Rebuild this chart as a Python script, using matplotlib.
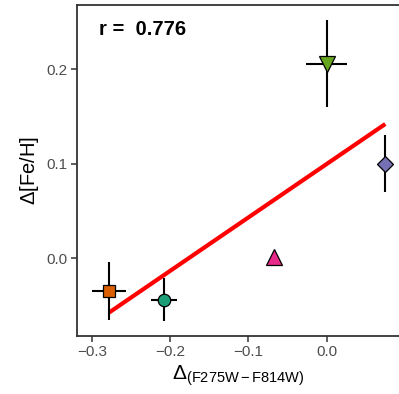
import numpy as np
import matplotlib
matplotlib.use("Agg")
import matplotlib.pyplot as plt

# ------------------------------------------------------------- dane
delta_color = [-0.278, -0.208, -0.067, 0.075, 0.0]
delta_color_err = [0.0215, 0.0166, 0.0, 0.0, 0.026]
delta_feh = [-0.035, -0.044, 0.001, 0.100, 0.206]
delta_feh_err = [0.031, 0.0225, 0.0, 0.030, 0.046]
markers = ["s", "o", "^", "D", "v"]
colors = ["#D95F02", "#1B9E77", "#E7298A", "#7570B3", "#66A61E"]
sizes = [8.0, 9.0, 12.0, 8.0, 12.0]

xticks = [-0.3, -0.2, -0.1, 0.0]
yticks = [0.0, 0.1, 0.2]

# ------------------------------------------------------------- fontki
plt.rcParams['font.family'] = ['Liberation Sans', 'DejaVu Sans']
plt.rcParams['mathtext.fontset'] = 'custom'
plt.rcParams['mathtext.rm'] = 'Liberation Sans'
plt.rcParams['mathtext.it'] = 'Liberation Sans:italic'

fig = plt.figure(figsize=(3.99, 3.94), dpi=100)
ax = fig.add_axes([77 / 399, (394 - 335.5) / 394, (399 - 77) / 399, (335.5 - 5.3) / 394])

# ------------------------------------------------------------- dopasowanie liniowe
x = np.array(delta_color)
y = np.array(delta_feh)
slope, intercept = np.polyfit(x, y, 1)
r = np.corrcoef(x, y)[0, 1]
xl = np.array([x.min(), x.max()])
ax.plot(xl, slope * xl + intercept, color="red", lw=3.0, zorder=2, solid_capstyle="butt")

# ------------------------------------------------------------- punkty z błędami
for i in range(len(x)):
    ax.errorbar(x[i], y[i], xerr=delta_color_err[i], yerr=delta_feh_err[i],
                fmt="none", ecolor="black", elinewidth=1.5, capsize=0, zorder=3)
    ax.plot(x[i], y[i], marker=markers[i], ms=sizes[i], mfc=colors[i],
            mec="black", mew=0.9, ls="none", zorder=4)

ax.text(0.069, 0.910, "r =  %.3f" % r, transform=ax.transAxes, fontsize=14.5,
        fontweight="bold", va="baseline", ha="left")

ax.set_xlim(-0.319, 0.0925)
ax.set_ylim(-0.082, 0.268)
ax.set_xticks(xticks)
ax.set_yticks(yticks)
ax.set_xticklabels(["\u22120.3", "\u22120.2", "\u22120.1", "0.0"])
ax.set_yticklabels(["0.0", "0.1", "0.2"])
ax.tick_params(colors="#333333", labelcolor="#4D4D4D", labelsize=11, length=4, width=1.1, pad=3)

for s in ["left", "bottom", "top"]:
    ax.spines[s].set_color("#333333")
    ax.spines[s].set_linewidth(1.3)
ax.spines["right"].set_visible(False)

ax.set_ylabel("$\\Delta$[Fe/H]", fontsize=14.5, labelpad=4)
ax.set_xlabel("$\\Delta_{\\mathrm{(F275W-F814W)}}$", fontsize=15, labelpad=3)

fig.savefig("out.png", dpi=100)
